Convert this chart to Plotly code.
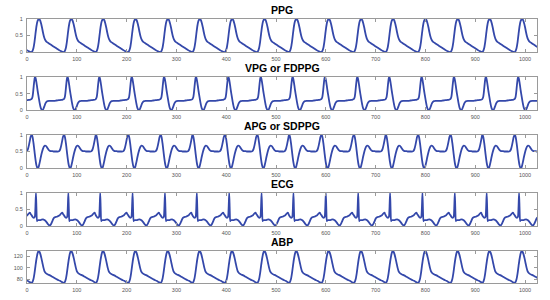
import plotly.graph_objects as go

# Beat onsets (sample index of PPG foot)
beat_starts = [-56, 9, 74, 138, 203, 268, 332, 397, 462, 526, 591, 656, 720, 785, 850, 914, 979]

# One-beat shapes (offset from beat onset, value)
ppg_dx = [0, 2, 4, 6, 8, 10, 12, 14, 15, 17, 19, 21, 23, 25, 27, 29, 31, 35, 40, 45, 50, 55, 60, 63]
ppg_val = [0.0, 0.03, 0.12, 0.3, 0.55, 0.78, 0.93, 0.99, 1.0, 0.97, 0.88, 0.75, 0.6, 0.47, 0.38, 0.33, 0.3,
           0.26, 0.21, 0.16, 0.11, 0.06, 0.02, 0.0]

vpg_dx = [0, 2, 3, 4, 5, 6, 7, 8, 9, 10, 11, 12, 13, 14, 15, 16, 17, 18, 19, 20, 21, 22, 23, 24, 26, 28, 30,
          32, 35, 40, 45, 50, 55, 60, 63]
vpg_val = [0.33, 0.4, 0.5, 0.65, 0.8, 0.93, 1.0, 0.98, 0.92, 0.83, 0.73, 0.62, 0.52, 0.43, 0.34, 0.25, 0.17,
           0.1, 0.05, 0.02, 0.0, 0.0, 0.01, 0.04, 0.12, 0.2, 0.25, 0.27, 0.28, 0.28, 0.28, 0.29, 0.3, 0.31, 0.32]

apg_dx = [0, 1, 2, 3, 4, 5, 6, 7, 8, 9, 10, 11, 12, 13, 14, 15, 17, 19, 21, 23, 25, 27, 29, 31, 33, 35, 37,
          39, 42, 45, 50, 54, 56, 58, 60, 62, 63]
apg_val = [1.0, 0.99, 0.95, 0.87, 0.76, 0.64, 0.51, 0.38, 0.26, 0.16, 0.08, 0.03, 0.005, 0.0, 0.02, 0.07,
           0.2, 0.35, 0.48, 0.58, 0.65, 0.68, 0.67, 0.63, 0.58, 0.54, 0.52, 0.51, 0.51, 0.5, 0.5, 0.5, 0.52,
           0.58, 0.7, 0.85, 0.93]

ecg_dx = [0, 2, 4, 6, 7, 8, 9, 10, 11, 12, 14, 17, 20, 23, 26, 29, 32, 34, 36, 38, 40, 42, 44, 46, 48, 51,
          54, 57, 59, 61, 62, 63]
ecg_val = [0.33, 0.28, 0.25, 0.26, 0.3, 0.6, 1.0, 0.5, 0.15, 0.17, 0.18, 0.18, 0.19, 0.2, 0.18, 0.14, 0.08,
           0.04, 0.02, 0.03, 0.08, 0.15, 0.22, 0.26, 0.27, 0.28, 0.3, 0.33, 0.37, 0.4, 0.4, 0.37]

abp_dx = [0, 2, 4, 6, 8, 10, 12, 13, 14, 15, 16, 18, 20, 22, 24, 26, 28, 30, 33, 37, 42, 47, 52, 57, 61, 63]
abp_val = [73.5, 75, 80, 90, 103, 115, 124, 127, 128.5, 128.5, 127.5, 123, 116, 108, 100, 94, 91, 89.5, 88,
           86.5, 84, 81.5, 79, 77, 75, 74]

titles = ["PPG", "VPG or FDPPG", "APG or SDPPG", "ECG", "ABP"]
x_ticks = [0, 100, 200, 300, 400, 500, 600, 700, 800, 900, 1000]
unit_ticks = [0, 0.5, 1]
abp_ticks = [80, 100, 120]


def build(dxs, vals):
    xs, ys = [], []
    for s in beat_starts:
        for d, v in zip(dxs, vals):
            xs.append(s + d)
            ys.append(v)
    return xs, ys


signals = [(ppg_dx, ppg_val), (vpg_dx, vpg_val), (apg_dx, apg_val), (ecg_dx, ecg_val), (abp_dx, abp_val)]
y_ranges = [[0, 1], [0, 1], [0, 1], [0, 1], [73.2, 128.8]]
y_tickvals = [unit_ticks, unit_ticks, unit_ticks, unit_ticks, abp_ticks]
domains = [[0.875, 1.0], [0.655, 0.780], [0.4356, 0.5606], [0.216, 0.341], [0.0, 0.121]]

line_color = "rgb(52,72,170)"
axis_color = "#9a9a9a"

fig = go.Figure()
layout = dict(
    template="none",
    width=550, height=300,
    margin=dict(l=27, r=13, t=19, b=17),
    paper_bgcolor="white", plot_bgcolor="white",
    showlegend=False,
    font=dict(family="Arial, Liberation Sans, sans-serif"),
    annotations=[],
)

for i, ((dxs, vals), title) in enumerate(zip(signals, titles)):
    n = i + 1
    xs, ys = build(dxs, vals)
    xname = "x" if n == 1 else f"x{n}"
    yname = "y" if n == 1 else f"y{n}"
    fig.add_trace(go.Scatter(x=xs, y=ys, mode="lines", xaxis=xname, yaxis=yname,
                             line=dict(color=line_color, width=1.8, shape="spline", smoothing=0.6),
                             hoverinfo="skip"))
    xkey = "xaxis" if n == 1 else f"xaxis{n}"
    ykey = "yaxis" if n == 1 else f"yaxis{n}"
    layout[xkey] = dict(domain=[0, 1], anchor=yname, range=[0, 1024], tickvals=x_ticks,
                        ticks="inside", ticklen=3, tickcolor=axis_color, mirror="ticks",
                        showline=True, linecolor=axis_color, linewidth=1, showgrid=False,
                        zeroline=False, automargin=False, ticklabelstandoff=1,
                        tickfont=dict(size=5.5, color="#555555"))
    layout[ykey] = dict(domain=domains[i], anchor=xname, range=y_ranges[i], tickvals=y_tickvals[i],
                        ticks="inside", ticklen=3, tickcolor=axis_color, mirror="ticks",
                        showline=True, linecolor=axis_color, linewidth=1, showgrid=False,
                        zeroline=False, automargin=False, ticklabelstandoff=2,
                        tickfont=dict(size=5.5, color="#555555"))
    layout["annotations"].append(dict(text=f"<b>{title}</b>", x=0.5, xref="paper",
                                      y=domains[i][1], yref="paper", yanchor="bottom", yshift=1,
                                      showarrow=False, font=dict(size=10.5, color="black")))

fig.update_layout(**layout)
fig.write_html("out.html", config={"displayModeBar": False, "staticPlot": True},
               post_script="document.body.style.margin='0';document.body.style.overflow='hidden';")
